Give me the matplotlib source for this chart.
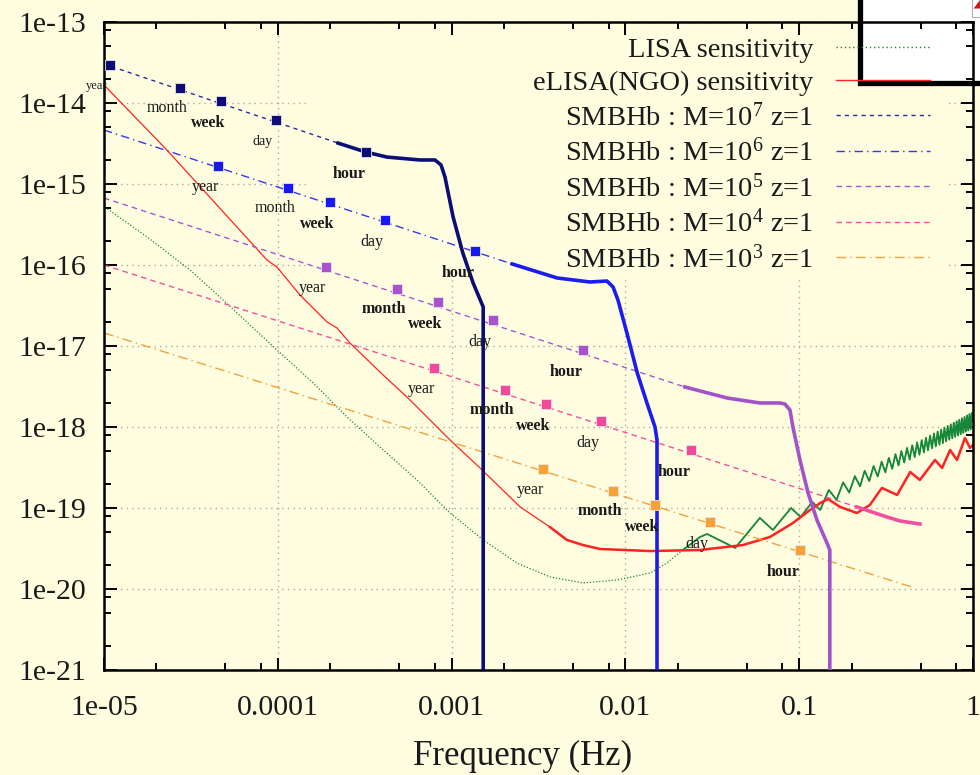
import numpy as np
import matplotlib
matplotlib.use('Agg')
from matplotlib import pyplot as plt
from matplotlib.lines import Line2D
from matplotlib.patches import Rectangle, Polygon
from matplotlib.ticker import LogLocator, NullFormatter

# ---------- detector sensitivities ----------
f_lisa = [1.01e-5, 1.77e-5, 3.13e-5, 4.84e-5, 9.89e-5, 1.60e-4, 2.50e-4, 3.87e-4, 6.32e-4,
          9.79e-4, 1.52e-3, 2.38e-3, 3.68e-3, 5.70e-3, 8.95e-3, 1.39e-2, 1.73e-2, 2.14e-2, 2.69e-2,
          0.0295, 0.0428, 0.0594, 0.0706, 0.0897, 0.102, 0.119, 0.132, 0.148, 0.164,
          0.179, 0.194, 0.209, 0.224, 0.238, 0.253, 0.268, 0.283, 0.298, 0.313,
          0.328, 0.343, 0.358, 0.373, 0.387, 0.402, 0.417, 0.432, 0.447, 0.462,
          0.477, 0.492, 0.507, 0.522, 0.536, 0.551, 0.566, 0.581, 0.596, 0.611,
          0.626, 0.641, 0.656, 0.671, 0.685, 0.700, 0.715, 0.730, 0.745, 0.760,
          0.775, 0.790, 0.805, 0.820, 0.834, 0.849, 0.864, 0.879, 0.894, 0.909,
          0.924, 0.939, 0.954, 0.969, 0.983, 1.0]
h_lisa = [5.20e-16, 2.22e-16, 8.67e-17, 3.70e-17, 8.93e-18, 3.49e-18, 1.33e-18, 5.66e-19, 2.22e-19,
          8.67e-20, 4.03e-20, 2.09e-20, 1.41e-20, 1.19e-20, 1.29e-20, 1.58e-20, 2.09e-20, 3.03e-20, 4.39e-20,
          4.78e-20, 3.21e-20, 7.53e-20, 5.35e-20, 1.00e-19, 7.74e-20, 1.19e-19, 9.44e-20, 1.67e-19, 1.26e-19,
          2.07e-19, 1.55e-19, 2.47e-19, 1.85e-19, 2.88e-19, 2.15e-19, 3.30e-19, 2.45e-19, 3.72e-19, 2.75e-19,
          4.17e-19, 3.05e-19, 4.61e-19, 3.35e-19, 5.05e-19, 3.65e-19, 5.51e-19, 3.95e-19, 5.96e-19, 4.25e-19,
          6.44e-19, 4.55e-19, 6.90e-19, 4.85e-19, 7.36e-19, 5.15e-19, 7.85e-19, 5.45e-19, 8.32e-19, 5.75e-19,
          8.83e-19, 6.05e-19, 9.31e-19, 6.35e-19, 9.79e-19, 6.65e-19, 1.03e-18, 6.95e-19, 1.08e-18, 7.25e-19,
          1.13e-18, 7.55e-19, 1.18e-18, 7.85e-19, 1.23e-18, 8.15e-19, 1.28e-18, 8.45e-19, 1.33e-18, 8.75e-19,
          1.39e-18, 9.05e-19, 1.44e-18, 9.35e-19, 1.49e-18, 1.2e-18]

f_elisa = [1.0e-5, 2.30e-5, 8.67e-5, 9.89e-5, 1.34e-4, 1.92e-4, 2.19e-4, 2.60e-4, 3.87e-4, 5.77e-4,
           9.79e-4, 1.50e-3, 2.48e-3, 3.68e-3, 4.61e-3, 5.70e-3, 7.14e-3, 1.39e-2, 2.69e-2, 4.75e-2,
           6.79e-2, 9.20e-2, 0.1153, 0.132, 0.1466, 0.172, 0.215, 0.255, 0.299, 0.366,
           0.435, 0.495, 0.604, 0.664, 0.738, 0.809, 0.899, 0.962, 1.0]
h_elisa = [1.67e-14, 2.63e-15, 1.15e-16, 9.44e-17, 4.27e-17, 1.98e-17, 1.67e-17, 1.09e-17, 4.78e-18, 2.15e-18,
           6.92e-19, 2.94e-19, 1.03e-19, 5.82e-20, 4.03e-20, 3.49e-20, 3.12e-20, 2.94e-20, 3.03e-20, 3.49e-20,
           4.39e-20, 6.53e-20, 9.44e-20, 1.15e-19, 1.29e-19, 1.03e-19, 8.67e-20, 1.09e-19, 1.77e-19, 1.45e-19,
           2.78e-19, 2.22e-19, 3.92e-19, 3.12e-19, 5.2e-19, 3.92e-19, 7.31e-19, 5.51e-19, 6.0e-19]

# ---------- SMBH binaries (z=1) ----------
masses = ['7', '6', '5', '4', '3']
mark_labels = ['year', 'month', 'week', 'day', 'hour']

# time-before-merger markers
f_marks = {
    '7': [1.08e-5, 2.74e-5, 4.71e-5, 9.77e-5, 3.21e-4],
    '6': [4.53e-5, 1.15e-4, 2.00e-4, 4.14e-4, 1.37e-3],
    '5': [1.89e-4, 4.85e-4, 8.36e-4, 1.73e-3, 5.70e-3],
    '4': [7.93e-4, 2.03e-3, 3.49e-3, 7.24e-3, 2.38e-2],
    '3': [3.36e-3, 8.49e-3, 1.48e-2, 3.07e-2, 0.101],
}
h_marks = {
    '7': [2.94e-14, 1.53e-14, 1.06e-14, 6.17e-15, 2.48e-15],
    '6': [1.67e-15, 8.93e-16, 6.00e-16, 3.60e-16, 1.49e-16],
    '5': [9.44e-17, 5.06e-17, 3.49e-17, 2.09e-17, 8.93e-18],
    '4': [5.35e-18, 2.86e-18, 1.92e-18, 1.19e-18, 5.20e-19],
    '3': [3.03e-19, 1.62e-19, 1.09e-19, 6.71e-20, 3.03e-20],
}

# inspiral (thin) segments
f_insp = {
    '7': [1e-5, 2.22e-4],
    '6': [1e-5, 2.23e-3],
    '5': [1e-5, 2.20e-2],
    '4': [1e-5, 0.215],
    '3': [1e-5, 0.463],
}
h_insp = {
    '7': [3.03e-14, 3.2e-15],
    '6': [4.64e-15, 1.03e-16],
    '5': [6.71e-16, 3.12e-18],
    '4': [1.0e-16, 1.03e-19],
    '3': [1.45e-17, 1.03e-20],
}

# last part (thick), down to the cut-off
f_merge = {
    '7': [2.22e-4, 3.21e-4, 4.25e-4, 6.58e-4, 8.02e-4, 8.69e-4, 9.16e-4, 1.02e-3, 1.16e-3, 1.33e-3, 1.52e-3, 1.52e-3],
    '6': [2.23e-3, 4.04e-3, 6.25e-3, 7.83e-3, 8.49e-3, 9.06e-3, 1.02e-2, 1.17e-2, 1.33e-2, 1.48e-2, 1.52e-2, 1.52e-2],
    '5': [2.20e-2, 3.85e-2, 5.94e-2, 7.76e-2, 8.28e-2, 8.85e-2, 9.20e-2, 0.101, 0.1125, 0.1265, 0.1445, 0.150, 0.150],
    '4': [0.215, 0.320, 0.380, 0.495],
    '3': [],
}
h_merge = {
    '7': [3.2e-15, 2.48e-15, 2.15e-15, 1.98e-15, 1.98e-15, 1.72e-15, 1.22e-15, 3.92e-16, 1.41e-16, 6.0e-17, 3.03e-17, 1e-22],
    '6': [1.03e-16, 6.92e-17, 6.17e-17, 6.34e-17, 5.35e-17, 3.70e-17, 1.45e-17, 4.65e-18, 1.98e-18, 1.0e-18, 6.92e-19, 1e-22],
    '5': [3.12e-18, 2.28e-18, 1.98e-18, 1.98e-18, 1.92e-18, 1.62e-18, 1.0e-18, 3.92e-19, 1.53e-19, 7.11e-20, 3.70e-20, 3.03e-20, 1e-22],
    '4': [1.03e-19, 7.74e-20, 6.92e-20, 6.34e-20],
    '3': [],
}

xtick_vals = [1e-5, 1e-4, 1e-3, 1e-2, 1e-1, 1]
xtick_text = ['1e-05', '0.0001', '0.001', '0.01', '0.1', '1']
ytick_vals = [1e-21, 1e-20, 1e-19, 1e-18, 1e-17, 1e-16, 1e-15, 1e-14, 1e-13]
ytick_text = ['1e-21', '1e-20', '1e-19', '1e-18', '1e-17', '1e-16', '1e-15', '1e-14', '1e-13']

# ---------- style ----------
plt.rcParams['font.family'] = ['Liberation Serif', 'DejaVu Serif']
plt.rcParams['mathtext.fontset'] = 'custom'
plt.rcParams['mathtext.rm'] = 'Liberation Serif'
plt.rcParams['mathtext.it'] = 'Liberation Serif:italic'
plt.rcParams['mathtext.bf'] = 'Liberation Serif:bold'

bg = '#fffde0'
green = '#17883a'
red = '#ff2424'
line_col = {'7': '#2a2a9a', '6': '#3535f5', '5': '#a457d0', '4': '#f2519e', '3': '#f2a040'}
thick_col = {'7': '#0d0d78', '6': '#1c1cee', '5': '#a452c8', '4': '#f24ea0', '3': '#f2a040'}
mark_col = {'7': '#0d0d78', '6': '#1818f0', '5': '#a852cc', '4': '#f24a9a', '3': '#f7a236'}
dash = {'7': (0, (3, 3)), '6': (0, (6, 3, 1, 3)), '5': (0, (4, 3)),
        '4': (0, (4, 3)), '3': (0, (7, 3, 1, 3))}

fig = plt.figure(figsize=(9.8, 7.75), dpi=100, facecolor=bg)
ax = fig.add_axes([104 / 980, 105 / 775, 869 / 980, 648 / 775])
ax.set_facecolor(bg)
ax.set_xscale('log')
ax.set_yscale('log')
ax.set_xlim(1e-5, 1)
ax.set_ylim(1e-21, 1e-13)

# dotted grid, hidden behind the key
for v in xtick_vals:
    ax.axvline(v, color='#a8a8a8', lw=1.0, ls=(0, (1, 3)), zorder=0.6)
for v in ytick_vals:
    ax.axhline(v, color='#a8a8a8', lw=1.0, ls=(0, (1, 3)), zorder=0.6)
ax.add_patch(Rectangle((0.237, 0.606), 0.731, 0.377, transform=ax.transAxes,
                       fc=bg, ec='none', zorder=0.8))

# white box poking in at the top right corner
ax.add_patch(Rectangle((0.8775, 0.893), 0.2, 0.2, transform=fig.transFigure,
                       fc='white', ec='black', lw=3.8, clip_on=False, zorder=1.0))
ax.add_patch(Rectangle((0.9918, 0.978), 0.02, 0.03, transform=fig.transFigure,
                       fc='white', ec='#b0b0b0', lw=0.8, clip_on=False, zorder=1.1))
ax.add_patch(Polygon([(0.9935, 0.989), (1.0, 1.0), (1.0, 0.989)], closed=True,
                     transform=fig.transFigure, fc='#d01818', ec='none',
                     clip_on=False, zorder=1.2))

# sensitivity curves
fl = np.array(f_lisa)
hl = np.array(h_lisa)
ax.plot(fl, hl, color=green, lw=0.9, ls=(0, (1, 1.5)), zorder=2)
hi = fl >= 0.0214
ax.plot(fl[hi], hl[hi], color=green, lw=1.3, zorder=2)

fe = np.array(f_elisa)
he = np.array(h_elisa)
ax.plot(fe, he, color=red, lw=0.9, zorder=2.1)
hi = fe >= 3.68e-3
ax.plot(fe[hi], he[hi], color=red, lw=1.8, zorder=2.1)

# binaries
lab_off = {'year': (-13, -21), 'month': (-13, -20), 'week': (-13, -22),
           'day': (-13, -22), 'hour': (-17, -22)}
for m in masses:
    ax.plot(f_insp[m], h_insp[m], color=line_col[m], lw=1.0, ls=dash[m], zorder=2.2)
    if f_merge[m]:
        ax.plot(f_merge[m], h_merge[m], color=thick_col[m], lw=2.6,
                solid_joinstyle='round', zorder=3)
    ax.plot(f_marks[m], h_marks[m], ls='none', marker='s', ms=7.2,
            mfc=mark_col[m], mec='#e6e6e6', mew=0.6, zorder=4)
    for lab, f, h in zip(mark_labels, f_marks[m], h_marks[m]):
        size = 11.5
        if m == '7' and lab == 'year':
            size = 9
        if m == '7' and lab == 'day':
            size = 10
        bold = lab in ('week', 'hour') or (lab == 'month' and m in ('5', '4', '3'))
        ax.annotate(lab, (f, h), xytext=lab_off[lab], textcoords='offset pixels',
                    ha='center', va='center', fontsize=size,
                    fontweight='bold' if bold else 'normal', color='#1a1a1a',
                    annotation_clip=False, zorder=5)

# axes, ticks
ax.set_xticks(xtick_vals, xtick_text)
ax.set_yticks(ytick_vals, ytick_text)
ax.xaxis.set_minor_locator(LogLocator(subs=(2, 5, 8), numticks=30))
ax.yaxis.set_minor_locator(LogLocator(subs=(2, 5, 8), numticks=30))
ax.xaxis.set_minor_formatter(NullFormatter())
ax.yaxis.set_minor_formatter(NullFormatter())
ax.tick_params(which='both', direction='in', top=True, right=True, width=1.4, color='black')
ax.tick_params(which='major', length=9, labelsize=21.5, labelcolor='#1a1a1a')
ax.tick_params(axis='y', which='major', pad=13)
ax.tick_params(axis='x', which='major', pad=18)
ax.tick_params(which='minor', length=5)
for s in ax.spines.values():
    s.set_linewidth(1.8)
ax.set_xlabel('Frequency (Hz)', fontsize=25, color='#1a1a1a')
ax.xaxis.set_label_coords((523 - 104) / 869, -0.108)

# key
handles = [Line2D([], [], color=green, lw=1.0, ls=(0, (1, 2))),
           Line2D([], [], color=red, lw=1.0)]
labels = ['LISA sensitivity', 'eLISA(NGO) sensitivity']
for m in masses:
    handles.append(Line2D([], [], color=line_col[m], lw=1.0, ls=dash[m]))
    labels.append('SMBHb : M=10$^{' + m + '}$ z=1')
leg = ax.legend(handles, labels, loc='upper right', bbox_to_anchor=(0.9505, 0.977),
                markerfirst=False, frameon=False, fontsize=20.5, handlelength=3.3,
                handletextpad=0.8, labelspacing=0.245, borderpad=0, borderaxespad=0)
for t in leg.get_texts():
    t.set_color('#1a1a1a')

fig.savefig('out.png', dpi=100, facecolor=bg)
